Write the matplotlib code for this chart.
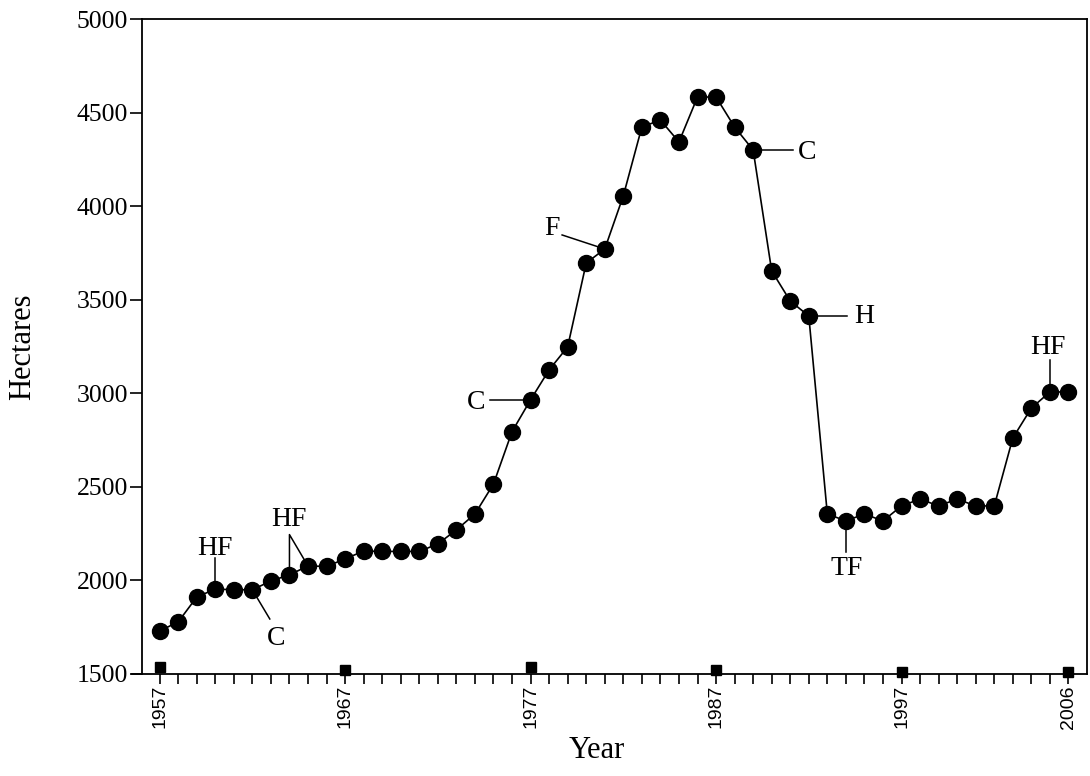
import numpy as np
import matplotlib
matplotlib.use('Agg')
import matplotlib.pyplot as plt

SERIF = ['Liberation Serif', 'DejaVu Serif']
SANS = ['Liberation Sans', 'DejaVu Sans']

years = np.arange(1957, 2007)
hectares = [1730, 1778, 1911, 1954, 1950, 1950, 1997, 2030, 2077, 2075,
            2115, 2157, 2155, 2155, 2155, 2195, 2270, 2355, 2515, 2795,
            2965, 3125, 3248, 3696, 3771, 4055, 4423, 4460, 4343, 4583,
            4583, 4423, 4300, 3654, 3493, 3413, 2355, 2318, 2355, 2318,
            2398, 2435, 2398, 2435, 2398, 2398, 2761, 2921, 3007, 3007]

# little squares sitting on the axis at the labelled years
mark_years = [1957, 1967, 1977, 1987, 1997, 2006]
mark_values = [1535, 1521, 1535, 1519, 1513, 1513]

# (label, label x, label y, line points)
notes = [
    ('HF', 1960.0, 2173, [(1960, 1954), (1960, 2120)]),
    ('HF', 1963.96, 2328, [(1964, 2030), (1964, 2245), (1965, 2077)]),
    ('C', 1963.26, 1692, [(1962, 1950), (1962.94, 1794)]),
    ('C', 1974.05, 2950, [(1974.8, 2962), (1977, 2962)]),
    ('F', 1978.15, 3878, [(1978.7, 3846), (1981, 3771)]),
    ('C', 1991.92, 4284, [(1989, 4300), (1991.16, 4300)]),
    ('H', 1994.99, 3410, [(1992, 3413), (1994.07, 3413)]),
    ('TF', 1994.02, 2066, [(1994, 2318), (1994, 2152)]),
    ('HF', 2004.87, 3242, [(2005, 3007), (2005, 3178)]),
]

fig = plt.figure(figsize=(10.9, 7.76), dpi=100)
ax = fig.add_axes([142 / 1090, 1 - 674 / 776, 945 / 1090, 655 / 776])

for label, tx, ty, pts in notes:
    xs, ys = zip(*pts)
    ax.plot(xs, ys, color='black', lw=1.1, zorder=2)
    ax.text(tx, ty, label, ha='center', va='center', fontsize=20,
            family=SERIF)

ax.plot(years, hectares, color='black', lw=1.2, marker='o', markersize=11.5,
        zorder=3)
ax.plot(mark_years, mark_values, ls='none', marker='s', markersize=6.5,
        color='black', clip_on=False, zorder=3)

ax.set_xlim(1956.05, 2007.0)
ax.set_ylim(1500, 5000)

ax.set_yticks(np.arange(1500, 5001, 500))
ax.set_xticks(mark_years)
ax.set_xticks(years, minor=True)
ax.set_xticklabels([str(y) for y in mark_years], rotation=90,
                   fontsize=14, family=SANS)
for t in ax.get_yticklabels():
    t.set_fontsize(18.5)
    t.set_family(SERIF)

ax.tick_params(axis='y', direction='out', length=9, width=1.2, pad=1)
ax.tick_params(axis='x', which='both', direction='out', length=7, width=1.2,
               pad=1)

for s in ax.spines.values():
    s.set_linewidth(1.3)
ax.spines['bottom'].set_bounds(1955.5, 2007.0)

ax.set_ylabel('Hectares', fontsize=22, family=SERIF)
ax.yaxis.set_label_coords(-0.111, 0.5)
ax.set_xlabel('Year', fontsize=22, family=SERIF)
ax.xaxis.set_label_coords(0.481, -0.0947)

fig.savefig('out.png', dpi=100)
